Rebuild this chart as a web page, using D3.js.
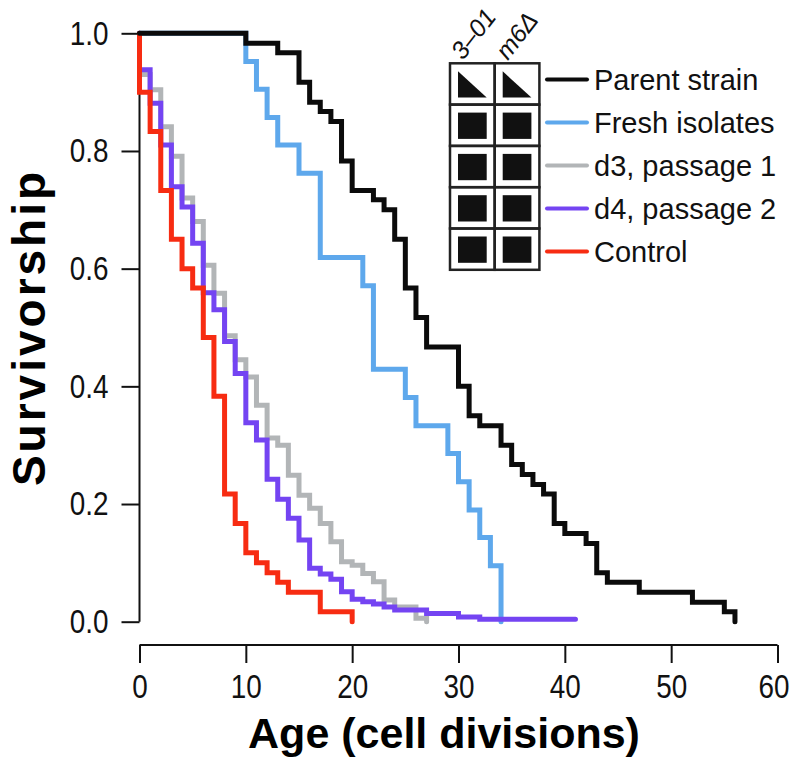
<!DOCTYPE html>
<html>
<head>
<meta charset="utf-8">
<script src="https://cdn.jsdelivr.net/npm/d3@7"></script>
<style>
  body { margin: 0; background: #fff; }
  svg { display: block; }
  .tick text { font-family: "Liberation Sans", Arial, sans-serif; }
</style>
</head>
<body>
<div id="chart"></div>
<script>
// Survival steps: age (cell divisions) and fraction alive
const parentAge  = [0, 10, 13, 15, 16, 17, 18, 19, 20, 22, 23, 24, 25, 26, 27, 30, 31, 32, 34, 35, 36, 37, 38, 39, 40, 42, 43, 44, 47, 52, 55, 56];
const parentSurv = [1, .983, .967, .917, .883, .867, .85, .783, .733, .717, .70, .65, .567, .517, .467, .40, .35, .333, .30, .267, .25, .233, .217, .167, .15, .133, .083, .067, .05, .033, .017, 0];

const freshAge  = [0, 10, 11, 12, 13, 15, 17, 21, 22, 25, 26, 29, 30, 31, 32, 33, 34];
const freshSurv = [1, .952, .905, .857, .81, .762, .619, .571, .429, .381, .333, .286, .238, .19, .143, .095, 0];

const d3Age  = [0, 0, 1, 2, 3, 4, 5, 6, 7, 8, 9, 10, 11, 12, 13, 14, 15, 16, 17, 18, 19, 20, 21, 22, 23, 24, 26, 27];
const d3Surv = [1, .93, .904, .841, .791, .72, .68, .606, .558, .486, .445, .416, .368, .312, .30, .249, .215, .193, .167, .136, .102, .096, .082, .068, .037, .025, .006, 0];

const d4Age  = [0, 0, 1, 2, 3, 4, 5, 6, 7, 8, 9, 10, 11, 12, 13, 14, 15, 16, 17, 18, 19, 20, 21, 22, 23, 24, 27, 30, 32, 41];
const d4Surv = [1, .938, .881, .81, .739, .705, .643, .559, .53, .476, .422, .338, .309, .242, .208, .176, .139, .091, .081, .072, .051, .038, .034, .03, .025, .02, .014, .008, .004, .004];

const controlAge  = [0, 0, 1, 2, 3, 4, 5, 6, 7, 8, 9, 10, 11, 12, 13, 14, 17, 20];
const controlSurv = [1, .9, .833, .733, .65, .6, .567, .483, .383, .217, .167, .117, .1, .083, .067, .05, .017, 0];

const seriesNames  = ['Parent strain', 'Fresh isolates', 'd3, passage 1', 'd4, passage 2', 'Control'];
const seriesColors = ['#0b0b0b', '#5ea8ec', '#b2b5b7', '#7444f2', '#f72c12'];
const columnLabels = ['3\u201301', 'm6\u0394'];
const xTicks = [0, 10, 20, 30, 40, 50, 60];
const yTicks = [0, 0.2, 0.4, 0.6, 0.8, 1.0];

const width = 792;
const height = 764;
const narrow = 0.82;  // tick labels are a condensed face in the original

const series = [
    { age: parentAge, surv: parentSurv },
    { age: freshAge, surv: freshSurv },
    { age: d3Age, surv: d3Surv },
    { age: d4Age, surv: d4Surv },
    { age: controlAge, surv: controlSurv }
].map((s, i) => ({
    name: seriesNames[i],
    color: seriesColors[i],
    points: s.age.map((a, j) => [a, s.surv[j]])
}));

const svg = d3.select('#chart')
    .append('svg')
    .attr('width', width)
    .attr('height', height);

const xScale = d3.scaleLinear().domain([0, 60]).range([139.5, 777.5]);
const yScale = d3.scaleLinear().domain([0, 1]).range([621.7, 33.3]);

// Axes
const yAxis = svg.append('g')
    .attr('transform', 'translate(139.5, 0)')
    .call(d3.axisLeft(yScale)
        .tickValues(yTicks)
        .tickSize(18)
        .tickSizeOuter(0)
        .tickPadding(12)
        .tickFormat(d3.format('.1f')));

const xAxis = svg.append('g')
    .attr('transform', 'translate(0, 645)')
    .call(d3.axisBottom(xScale)
        .tickValues(xTicks)
        .tickSize(18)
        .tickSizeOuter(0)
        .tickPadding(11));

[xAxis, yAxis].forEach(ax => {
    ax.selectAll('path, line').attr('stroke', '#111').attr('stroke-width', 2);
    ax.selectAll('text')
        .attr('font-size', 34)
        .attr('fill', '#111')
        .attr('transform', `scale(${narrow},1)`);
});
// keep the right edge of y labels in place after squeezing
yAxis.selectAll('.tick text').attr('x', -31 / narrow);
// last x label sits against the page edge
xAxis.selectAll('.tick text').filter(d => d === 60).attr('dx', -4 / narrow);

// axis lines span only between first and last ticks
xAxis.select('.domain').attr('d', `M${xScale(0)},0H${xScale(60)}`);
yAxis.select('.domain').attr('d', `M0,${yScale(0)}V${yScale(1)}`);

// Axis titles
svg.append('text')
    .attr('x', 444)
    .attr('y', 748)
    .attr('text-anchor', 'middle')
    .attr('font-family', 'Liberation Sans, Arial, sans-serif')
    .attr('font-weight', 'bold')
    .attr('font-size', 43)
    .text('Age (cell divisions)');

svg.append('text')
    .attr('transform', `translate(45, ${(yScale(0) + yScale(1)) / 2}) rotate(-90)`)
    .attr('text-anchor', 'middle')
    .attr('font-family', 'Liberation Sans, Arial, sans-serif')
    .attr('font-weight', 'bold')
    .attr('font-size', 46)
    .attr('letter-spacing', 3)
    .text('Survivorship');

// Survival curves (drawing order: blue, gray, purple, red, black on top)
const line = d3.line()
    .x(d => xScale(d[0]))
    .y(d => yScale(d[1]))
    .curve(d3.curveStepAfter);

const drawOrder = [1, 2, 3, 4, 0];
svg.append('g')
    .attr('class', 'curves')
    .selectAll('path')
    .data(drawOrder.map(i => series[i]))
    .join('path')
    .attr('d', d => line(d.points))
    .attr('fill', 'none')
    .attr('stroke', d => d.color)
    .attr('stroke-width', 5)
    .attr('stroke-linejoin', 'miter')
    .attr('stroke-linecap', 'round');

// Genotype grid next to legend
const grid = svg.append('g').attr('class', 'grid');
const gridX = 450, gridY = 63.3, cellW = 44.7, cellH = 41.3;

seriesNames.forEach((name, r) => {
    columnLabels.forEach((c, k) => {
        const cx = gridX + k * cellW;
        const cy = gridY + r * cellH;
        grid.append('rect')
            .attr('x', cx).attr('y', cy)
            .attr('width', cellW).attr('height', cellH)
            .attr('fill', 'none')
            .attr('stroke', '#222')
            .attr('stroke-width', 2.5);
        const ix = cx + 8, iy = cy + 8, iw = cellW - 16, ih = cellH - 15;
        if (r === 0) {
            grid.append('path')
                .attr('d', `M${ix},${iy}L${ix},${iy + ih}L${ix + iw},${iy + ih}Z`)
                .attr('fill', '#111');
        } else {
            grid.append('rect')
                .attr('x', ix).attr('y', iy)
                .attr('width', iw).attr('height', ih)
                .attr('fill', '#111');
        }
    });
});

columnLabels.forEach((c, k) => {
    grid.append('text')
        .attr('transform', `translate(${gridX + k * cellW + 13}, 61) rotate(-52)`)
        .attr('font-family', 'Liberation Sans, Arial, sans-serif')
        .attr('font-style', 'italic')
        .attr('font-size', 25)
        .attr('fill', '#111')
        .text(c);
});

// Legend
const legend = svg.append('g').attr('class', 'legend');
seriesNames.forEach((name, i) => {
    const ly = 79.5 + i * 43;
    legend.append('line')
        .attr('x1', 547).attr('x2', 587)
        .attr('y1', ly).attr('y2', ly)
        .attr('stroke', seriesColors[i])
        .attr('stroke-width', 4)
        .attr('stroke-linecap', 'round');
    legend.append('text')
        .attr('x', 594)
        .attr('y', ly + 10)
        .attr('font-family', 'Liberation Sans, Arial, sans-serif')
        .attr('font-size', 29)
        .attr('fill', '#111')
        .text(name);
});
</script>
</body>
</html>
